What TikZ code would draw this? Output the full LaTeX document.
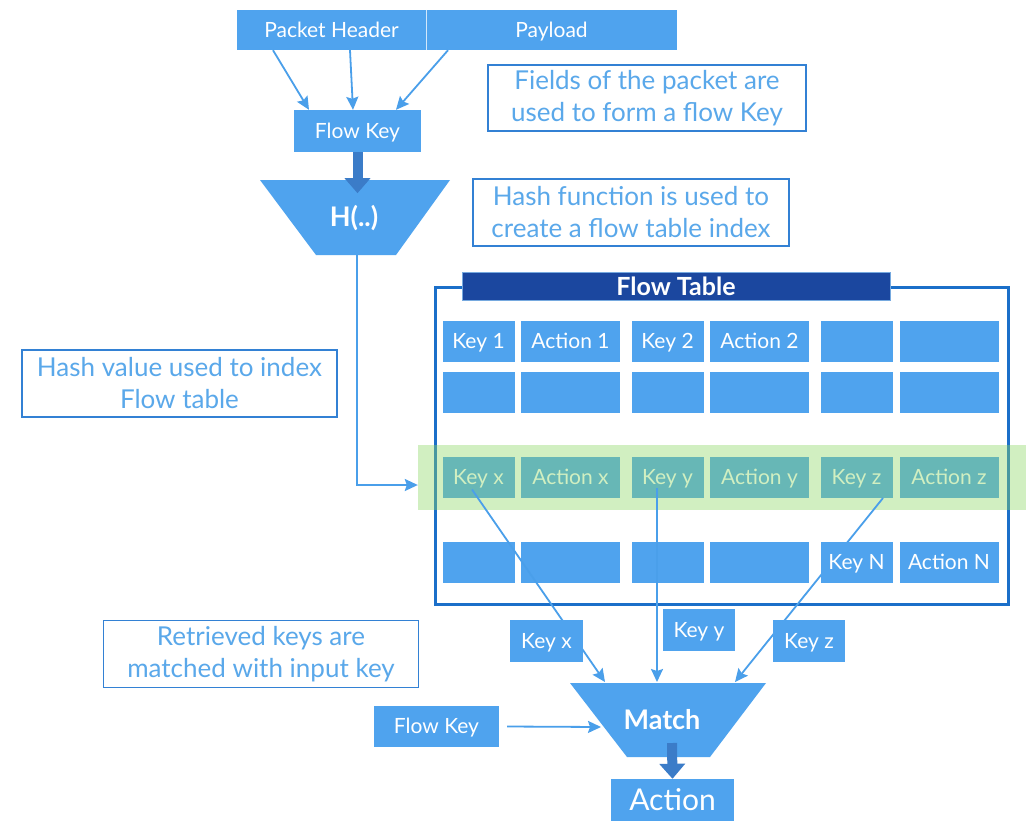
\documentclass[tikz,border=0pt]{standalone}
\usepackage{fontspec}
\setmainfont{Lato}
\usetikzlibrary{arrows.meta,calc}

\definecolor{cellblue}{HTML}{4FA3EE}
\definecolor{fatblue}{HTML}{3B7CC8}
\definecolor{linkblue}{HTML}{4A9FEA}
\definecolor{tableborder}{HTML}{1B6FC9}
\definecolor{titlenavy}{HTML}{1B479F}
\definecolor{notetext}{HTML}{5AA8EA}
\definecolor{noteline}{HTML}{3381D4}
\definecolor{bandgreen}{RGB}{140,215,100}

\begin{document}
\begin{tikzpicture}[x=1pt,y=-1pt,
  cell/.style={fill=cellblue, text=white, inner sep=0pt, minimum height=41pt,
    text height=15pt, text depth=1pt,
    font=\fontsize{21}{25}\selectfont},
  keycell/.style={cell, minimum width=72pt},
  actcell/.style={cell, minimum width=99pt},
  bluebox/.style={fill=cellblue, text=white, inner sep=0pt,
    text height=15pt, text depth=1pt,
    font=\fontsize{21}{25}\selectfont},
  note/.style={draw=noteline, line width=1.8pt, fill=white, text=notetext,
    align=center, inner sep=0pt, font=\fontsize{26}{32}\selectfont},
  funnel/.style={fill=cellblue},
  funneltext/.style={text=white, font=\bfseries\fontsize{27}{31}\selectfont},
  link/.style={draw=linkblue, line width=1.8pt,
    -{Stealth[length=13pt,width=12pt,inset=2pt]}},
  fat/.style={draw=fatblue, line width=10pt,
    -{Triangle[length=15pt,width=25pt]}},
]
\useasboundingbox (0,0) rectangle (1026,820);
\fill[white] (0,0) rectangle (1026,820);

% ---- packet and flow key ----
\node[bluebox, minimum width=189pt, minimum height=40pt] (ph) at (331.5,30) {Packet Header};
\node[bluebox, minimum width=251pt, minimum height=40pt] (pl) at (551.5,30) {Payload};
\draw[white!75!cellblue, line width=0.8pt] (ph.north east) -- (ph.south east);

\node[note, minimum width=318pt, minimum height=66pt] (n1) at (647,98)
  {Fields of the packet are\\used to form a flow Key};

\node[bluebox, minimum width=127pt, minimum height=42pt] (fk) at (357.5,131) {Flow Key};

\draw[link] ([xshift=-58.5pt]ph.south) -- ([xshift=-48.5pt]fk.north);
\draw[link] ([xshift=18.5pt]ph.south) -- ([xshift=-4.5pt]fk.north);
\draw[link] ([xshift=-103.5pt]pl.south) -- ([xshift=38.5pt]fk.north);

% ---- hash function ----
\fill[funnel] (260,180) -- (450,180) -- (396,255) -- (316,255) -- cycle;
\node[funneltext] (hash) at (354,218) {H(..)};
\coordinate (hashout) at (357,255);
\draw[fat] (fk.south) -- ++(0,41);

\node[note, minimum width=316pt, minimum height=67pt] (n2) at (631,212.5)
  {Hash function is used to\\create a flow table index};

\node[note, minimum width=315pt, minimum height=67pt] (n3) at (179.5,383.5)
  {Hash value used to index\\Flow table};

% ---- flow table ----
\node[draw=tableborder, line width=3pt, minimum width=573pt, minimum height=317pt,
  inner sep=0pt] (ft) at (722,445.5) {};
\node[fill=titlenavy, draw=tableborder!60!white, line width=0.8pt, text=white,
  minimum width=428pt, minimum height=28pt, inner sep=0pt,
  font=\bfseries\fontsize{25}{29}\selectfont] (fttitle) at (676,286) {Flow Table};

% row 1
\node[keycell] (r1c1) at (478.5,341) {Key 1};
\node[actcell] (r1c2) at (570.5,341) {Action 1};
\node[keycell] (r1c3) at (667.5,341) {Key 2};
\node[actcell] (r1c4) at (759.5,341) {Action 2};
\node[keycell] (r1c5) at (856.5,341) {};
\node[actcell] (r1c6) at (949,341) {};
% row 2
\node[keycell] (r2c1) at (478.5,392.5) {};
\node[actcell] (r2c2) at (570.5,392.5) {};
\node[keycell] (r2c3) at (667.5,392.5) {};
\node[actcell] (r2c4) at (759.5,392.5) {};
\node[keycell] (r2c5) at (856.5,392.5) {};
\node[actcell] (r2c6) at (949,392.5) {};
% row 3 (the indexed entry)
\node[keycell] (r3c1) at (478.5,477.5) {Key x};
\node[actcell] (r3c2) at (570.5,477.5) {Action x};
\node[keycell] (r3c3) at (667.5,477.5) {Key y};
\node[actcell] (r3c4) at (759.5,477.5) {Action y};
\node[keycell] (r3c5) at (856.5,477.5) {Key z};
\node[actcell] (r3c6) at (949,477.5) {Action z};

% highlight band over the indexed entry
\node[fill=bandgreen, opacity=0.4, minimum width=612pt, minimum height=65pt,
  inner sep=0pt] (hit) at (724,477.5) {};

\draw[link] (hashout) |- ([yshift=-7.5pt]hit.west);

% ---- match stage ----
\coordinate (mx) at (605,682);
\coordinate (my) at (657,682);
\coordinate (mz) at (735,682);
\coordinate (mk) at (601,727);

\draw[link] ([shift={(26.5,20.5)}]r3c5.center) -- (mz);

% row 4
\node[keycell] (r4c1) at (478.5,562.5) {};
\node[actcell] (r4c2) at (570.5,562.5) {};
\node[keycell] (r4c3) at (667.5,562.5) {};
\node[actcell] (r4c4) at (759.5,562.5) {};
\node[keycell] (r4c5) at (856.5,562.5) {Key N};
\node[actcell] (r4c6) at (949,562.5) {Action N};

\draw[link] ([shift={(-6.5,12)}]r3c1.center) -- (mx);
\draw[link] ([shift={(-10.5,10.5)}]r3c3.center) -- (my);

\node[bluebox, minimum width=73pt, minimum height=42pt] (kx) at (546.5,641) {Key x};
\node[bluebox, minimum width=72pt, minimum height=42pt] (ky) at (699,630) {Key y};
\node[bluebox, minimum width=72pt, minimum height=42pt] (kz) at (809,641) {Key z};

\node[note, minimum width=315pt, minimum height=67pt] (n4) at (261,654)
  {Retrieved keys are\\matched with input key};

\fill[funnel] (570,683) -- (766,683) -- (710,757) -- (627,757) -- cycle;
\node[funneltext] (match) at (662,720) {Match};

\node[bluebox, minimum width=125pt, minimum height=41pt] (fk2) at (436.5,726.5) {Flow Key};
\draw[link] ([xshift=8pt]fk2.east) -- (mk);

\node[bluebox, minimum width=123pt, minimum height=44pt,
  text height=21pt, text depth=1.5pt,
  font=\fontsize{30}{34}\selectfont] (act) at (672.5,801) {Action};
\draw[fat] (672,743) -- (act.north);
\end{tikzpicture}
\end{document}
